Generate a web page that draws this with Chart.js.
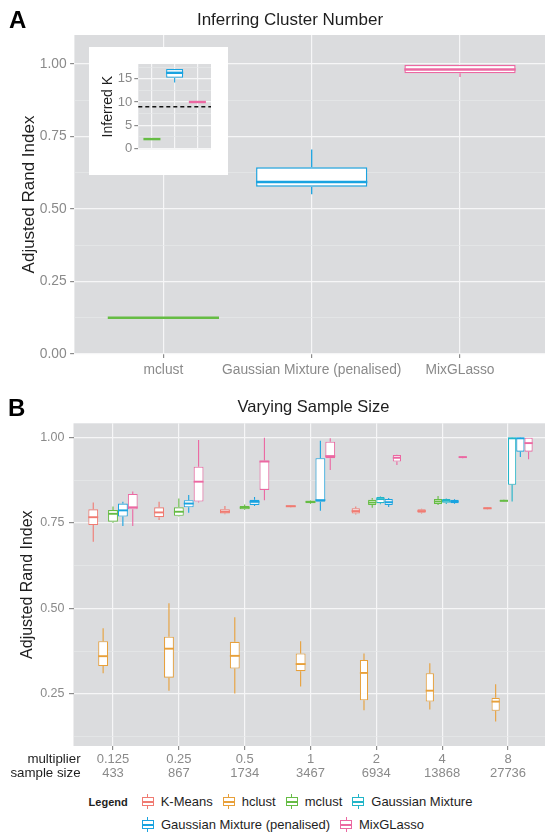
<!DOCTYPE html>
<html>
<head>
<meta charset="utf-8">
<script src="https://cdn.jsdelivr.net/npm/chart.js@4.4.0/dist/chart.umd.min.js"></script>
<style>
  html, body { margin: 0; padding: 0; background: #fff; }
  #page { position: relative; width: 545px; height: 832px; overflow: hidden; font-family: "Liberation Sans", Arial, Helvetica, sans-serif; }
  canvas { position: absolute; display: block; }
  #chartA { left: 0; top: 0; }
  #inset { left: 89px; top: 47px; background: #fff; }
  #chartB { left: 0; top: 388px; }
  #legend { position: absolute; left: 0; top: 790px; width: 545px; box-sizing: border-box; padding-left: 21px; font-size: 13px; color: #1e1e1e; }
  .row { display: flex; justify-content: center; align-items: center; height: 23px; }
  .lg-title { font-weight: bold; font-size: 11px; margin-right: 9px; }
  .item { display: flex; align-items: center; margin: 0 5px; white-space: nowrap; }
  .ico { position: relative; width: 12px; height: 15px; margin-right: 7px; }
  .ico .wh { position: absolute; left: 5.5px; top: 0; width: 1px; height: 15px; }
  .ico .bx { position: absolute; left: 0; top: 3px; width: 12px; height: 9px; box-sizing: border-box; border: 1px solid; background: #fff; }
  .ico .md { position: absolute; left: 0; top: 7px; width: 12px; height: 1.5px; }
</style>
</head>
<body>
<div id="page">
  <canvas id="chartA" width="545" height="388"></canvas>
  <canvas id="inset" width="139" height="128"></canvas>
  <canvas id="chartB" width="545" height="400"></canvas>
  <div id="legend"></div>
</div>
<script>
// series shared by both panels
const seriesNames = ['K-Means', 'hclust', 'mclust', 'Gaussian Mixture', 'Gaussian Mixture (penalised)', 'MixGLasso'];
const seriesColors = ['#F07B72', '#E8A03A', '#66BC44', '#22B5C8', '#1AA3E0', '#EC68A2'];

// Panel A -- every box is [lower whisker, Q1, median, Q3, upper whisker]
const methodsA = ['mclust', 'Gaussian Mixture (penalised)', 'MixGLasso'];
const colorsA = [seriesColors[2], seriesColors[4], seriesColors[5]];
const ariA = [
  [0.125, 0.125, 0.125, 0.125, 0.125],
  [0.551, 0.577, 0.593, 0.644, 0.705],
  [0.955, 0.968, 0.981, 0.997, 0.997]
];
const inferredK = [
  [2, 2, 2, 2, 2],
  [14.2, 15.25, 16.3, 17.1, 17.1],
  [10, 10, 10, 10, 10]
];
const trueK = 9;
const ticksA = [0, 0.25, 0.5, 0.75, 1];
const ticksInset = [0, 5, 10, 15];

// Panel B
const multipliers = ['0.125', '0.25', '0.5', '1', '2', '4', '8'];
const sampleSizes = ['433', '867', '1734', '3467', '6934', '13868', '27736'];
const rowLabels = ['multiplier', 'sample size'];
const kmeans = [
  [0.695, 0.744, 0.767, 0.790, 0.810],
  [0.759, 0.767, 0.781, 0.796, 0.812],
  [0.776, 0.778, 0.783, 0.790, 0.800],
  [0.796, 0.797, 0.799, 0.802, 0.803],
  [0.775, 0.778, 0.785, 0.793, 0.798],
  [0.778, 0.780, 0.785, 0.790, 0.792],
  [0.790, 0.791, 0.793, 0.796, 0.797]
];
const hclust = [
  [0.310, 0.331, 0.360, 0.404, 0.442],
  [0.259, 0.297, 0.382, 0.417, 0.515],
  [0.251, 0.324, 0.361, 0.402, 0.474],
  [0.271, 0.316, 0.337, 0.368, 0.404],
  [0.202, 0.231, 0.311, 0.349, 0.368],
  [0.204, 0.227, 0.259, 0.310, 0.339],
  [0.169, 0.200, 0.227, 0.238, 0.278]
];
const mclust = [
  [0.751, 0.754, 0.777, 0.788, 0.798],
  [0.769, 0.771, 0.783, 0.796, 0.822],
  [0.788, 0.790, 0.795, 0.800, 0.804],
  [0.806, 0.808, 0.812, 0.815, 0.817],
  [0.795, 0.803, 0.810, 0.818, 0.823],
  [0.803, 0.806, 0.813, 0.820, 0.829],
  [0.812, 0.813, 0.815, 0.818, 0.819]
];
const gaussMix = [
  null, null, null, null,
  [0.805, 0.808, 0.820, 0.826, 0.828],
  [0.806, 0.809, 0.815, 0.820, 0.822],
  [0.813, 0.862, 0.998, 0.999, 1.000]
];
const gaussMixPen = [
  [0.741, 0.769, 0.787, 0.807, 0.812],
  [0.780, 0.796, 0.807, 0.817, 0.832],
  [0.800, 0.803, 0.812, 0.818, 0.826],
  [0.786, 0.812, 0.817, 0.940, 0.991],
  [0.797, 0.803, 0.811, 0.820, 0.823],
  [0.806, 0.808, 0.813, 0.818, 0.820],
  [0.943, 0.959, 0.998, 0.999, 1.000]
];
const mixGLasso = [
  [0.741, 0.790, 0.796, 0.835, 0.842],
  [0.810, 0.813, 0.871, 0.915, 0.993],
  [0.817, 0.847, 0.930, 0.933, 1.000],
  [0.905, 0.940, 0.946, 0.988, 0.998],
  [0.920, 0.930, 0.941, 0.949, 0.950],
  [0.940, 0.941, 0.943, 0.945, 0.946],
  [0.937, 0.959, 0.984, 1.000, 1.000]
];
const ticksB = [0.25, 0.5, 0.75, 1];
const seriesB = [kmeans, hclust, mclust, gaussMix, gaussMixPen, mixGLasso];

// look
Chart.defaults.font.family = '"Liberation Sans", Arial, Helvetica, sans-serif';
const PANEL_BG = '#DBDCDE';
const GRID_MAJOR = '#F6F6F7';
const GRID_MINOR = '#E7E8E9';
const TICK_COL = '#8C8C8C';
const LABEL_COL = '#8A8A8A';
const INK = '#1E1E1E';

// ggplot style grey panel
const panelBackground = {
  id: 'panelBackground',
  beforeDraw(chart) {
    const a = chart.chartArea;
    chart.ctx.save();
    chart.ctx.fillStyle = PANEL_BG;
    chart.ctx.fillRect(a.left, a.top, a.right - a.left, a.bottom - a.top);
    chart.ctx.restore();
  }
};

// whiskers + median on top of the floating bars (the boxes)
const boxWhiskers = {
  id: 'boxWhiskers',
  afterDatasetsDraw(chart, args, opts) {
    const ctx = chart.ctx;
    const ys = chart.scales.y;
    const py = v => ys.getPixelForValue(v);
    chart.data.datasets.forEach((ds, di) => {
      if (!ds.boxes) return;
      chart.getDatasetMeta(di).data.forEach((bar, i) => {
        const b = ds.boxes[i];
        if (!b) return;
        const color = Array.isArray(ds.borderColor) ? ds.borderColor[i] : ds.borderColor;
        const half = bar.width / 2;
        ctx.save();
        ctx.strokeStyle = color;
        ctx.lineWidth = opts.whisker;
        ctx.beginPath();
        ctx.moveTo(bar.x, py(b[4])); ctx.lineTo(bar.x, py(b[3]));
        ctx.moveTo(bar.x, py(b[1])); ctx.lineTo(bar.x, py(b[0]));
        ctx.stroke();
        ctx.lineWidth = opts.median;
        ctx.beginPath();
        ctx.moveTo(bar.x - half, py(b[2])); ctx.lineTo(bar.x + half, py(b[2]));
        ctx.stroke();
        ctx.restore();
      });
    });
  }
};

// dashed reference line (true number of clusters) in the inset
const refLine = {
  id: 'refLine',
  afterDatasetsDraw(chart, args, opts) {
    if (opts.value === undefined) return;
    const a = chart.chartArea;
    const y = chart.scales.y.getPixelForValue(opts.value);
    const ctx = chart.ctx;
    ctx.save();
    ctx.strokeStyle = '#111';
    ctx.lineWidth = 1.5;
    ctx.setLineDash([4, 3]);
    ctx.beginPath();
    ctx.moveTo(a.left, y); ctx.lineTo(a.right, y);
    ctx.stroke();
    ctx.restore();
  }
};

// panel letter, panel title, and the row names of the two-line x axis
const panelText = {
  id: 'panelText',
  afterDraw(chart, args, o) {
    const ctx = chart.ctx;
    ctx.save();
    ctx.fillStyle = '#000';
    ctx.textBaseline = 'alphabetic';
    ctx.textAlign = 'left';
    ctx.font = 'bold 24px "Liberation Sans", Arial, sans-serif';
    ctx.fillText(o.letter, o.letterX, o.letterY);
    ctx.fillStyle = INK;
    ctx.textAlign = 'center';
    ctx.font = o.titleSize + 'px "Liberation Sans", Arial, sans-serif';
    ctx.fillText(o.title, o.titleX, o.titleY);
    if (o.rows) {
      const xs = chart.scales.x;
      const lh = 13 * 1.05;
      const y0 = xs.top + 4 + 3 + lh / 2;
      ctx.textAlign = 'right';
      ctx.textBaseline = 'middle';
      ctx.font = '13.3px "Liberation Sans", Arial, sans-serif';
      o.rows.forEach((t, k) => ctx.fillText(t, o.rowsX, y0 + k * lh));
    }
    ctx.restore();
  }
};

function minorBetween(major, min, max) {
  const step = major[1] - major[0];
  const out = [];
  for (let v = major[0] - step / 2; v <= major[major.length - 1] + step / 2 + 1e-9; v += step) {
    if (v >= min && v <= max) out.push(+v.toFixed(6));
  }
  return out;
}

function yAxis(major, min, max, cfg) {
  const all = major.concat(minorBetween(major, min, max)).sort((a, b) => a - b);
  const isMajor = v => major.includes(v);
  return {
    type: 'linear', min: min, max: max,
    afterBuildTicks: s => { s.ticks = all.map(v => ({ value: v })); },
    afterFit: s => { s.width = cfg.width; },
    border: { display: false },
    grid: {
      color: c => isMajor(c.tick.value) ? GRID_MAJOR : GRID_MINOR,
      lineWidth: c => isMajor(c.tick.value) ? 1.2 : 0.7,
      tickColor: c => isMajor(c.tick.value) ? TICK_COL : 'rgba(0,0,0,0)',
      tickLength: cfg.tickLength
    },
    ticks: {
      autoSkip: false,
      padding: cfg.pad,
      color: LABEL_COL,
      font: { size: cfg.size },
      callback: v => isMajor(v) ? cfg.fmt(v) : ''
    },
    title: {
      display: true,
      text: cfg.title,
      color: INK,
      font: { size: cfg.titleSize, lineHeight: 1.2 },
      padding: { top: cfg.titlePad, bottom: 0 }
    }
  };
}

function xAxis(n, max, labelFn, cfg) {
  const idx = Array.from({ length: n }, (_, i) => i);
  return {
    type: 'linear', min: -0.6, max: max, offset: false,
    afterBuildTicks: s => { s.ticks = idx.map(v => ({ value: v })); },
    afterFit: s => { s.height = cfg.height; },
    border: { display: false },
    grid: { offset: false, color: GRID_MAJOR, lineWidth: 1.2, tickColor: TICK_COL, tickLength: 4, drawTicks: cfg.labels },
    ticks: {
      display: cfg.labels,
      autoSkip: false, maxRotation: 0, minRotation: 0,
      padding: cfg.pad,
      color: LABEL_COL,
      font: { size: cfg.size, lineHeight: cfg.lh },
      callback: v => labelFn(v)
    }
  };
}

function boxDataset(label, color, boxes, lw) {
  return {
    label: label,
    data: boxes.map((b, i) => ({ x: i, y: b ? [b[1], b[3]] : null })),
    boxes: boxes,
    backgroundColor: '#ffffff',
    borderColor: color,
    borderWidth: lw,
    borderSkipped: false,
    skipNull: true,
    categoryPercentage: 0.75,
    barPercentage: 1
  };
}

const common = {
  responsive: false,
  animation: false,
  devicePixelRatio: 1,
  events: []
};

// Panel A
new Chart(document.getElementById('chartA'), {
  type: 'bar',
  data: { datasets: [boxDataset('A', colorsA, ariA, 1.4)] },
  options: Object.assign({}, common, {
    layout: { padding: { top: 35, right: 0, bottom: 0, left: 0 } },
    plugins: {
      legend: { display: false }, tooltip: { enabled: false },
      boxWhiskers: { whisker: 1.3, median: 2.6 },
      panelText: { letter: 'A', letterX: 9, letterY: 28, title: 'Inferring Cluster Number', titleX: 290, titleY: 24.5, titleSize: 17 }
    },
    scales: {
      x: xAxis(methodsA.length, 2.573, v => methodsA[v], { height: 34, pad: 4, size: 13.8, lh: 1.2, labels: true }),
      y: yAxis(ticksA, 0, 1.1, { width: 74.4, tickLength: 4.3, pad: 3.5, size: 13.8, fmt: v => v.toFixed(2),
        title: 'Adjusted Rand Index', titleSize: 17, titlePad: 19.3 })
    }
  }),
  plugins: [panelBackground, boxWhiskers, panelText]
});

// inset of panel A
new Chart(document.getElementById('inset'), {
  type: 'bar',
  data: { datasets: [boxDataset('K', colorsA, inferredK, 1.2)] },
  options: Object.assign({}, common, {
    layout: { padding: { top: 17, right: 17, bottom: 0, left: 0 } },
    plugins: {
      legend: { display: false }, tooltip: { enabled: false },
      boxWhiskers: { whisker: 1.1, median: 2.4 },
      refLine: { value: trueK }
    },
    scales: {
      x: xAxis(methodsA.length, 2.6, v => methodsA[v], { height: 25.7, pad: 0, size: 10, lh: 1.2, labels: false }),
      y: yAxis(ticksInset, -0.2, 18.2, { width: 49.3, tickLength: 4, pad: 2, size: 13, fmt: v => String(v),
        title: 'Inferred K', titleSize: 14, titlePad: 10.4 })
    }
  }),
  plugins: [panelBackground, boxWhiskers, refLine]
});

// Panel B
new Chart(document.getElementById('chartB'), {
  type: 'bar',
  data: { datasets: seriesB.map((s, k) => boxDataset(seriesNames[k], seriesColors[k], s, 1.1)) },
  options: Object.assign({}, common, {
    layout: { padding: { top: 35.3, right: 0, bottom: 0, left: 0 } },
    datasets: { bar: { skipNull: true } },
    plugins: {
      legend: { display: false }, tooltip: { enabled: false },
      boxWhiskers: { whisker: 1.1, median: 1.9 },
      panelText: { letter: 'B', letterX: 8, letterY: 28, title: 'Varying Sample Size', titleX: 313.5, titleY: 24, titleSize: 16.5,
        rows: rowLabels, rowsX: 80.6 }
    },
    scales: {
      x: xAxis(multipliers.length, 6.562, v => [multipliers[v], sampleSizes[v]], { height: 42, pad: 3, size: 13, lh: 1.05, labels: true }),
      y: yAxis(ticksB, 0.097, 1.042, { width: 73.5, tickLength: 4.5, pad: 4.5, size: 12.5, fmt: v => v.toFixed(2),
        title: 'Adjusted Rand Index', titleSize: 16, titlePad: 18 })
    }
  }),
  plugins: [panelBackground, boxWhiskers, panelText]
});

// legend (two rows, glyph = small box with whisker and median)
const legendRows = [[0, 1, 2, 3], [4, 5]];
const legendEl = document.getElementById('legend');
legendRows.forEach((row, r) => {
  const rowEl = document.createElement('div');
  rowEl.className = 'row';
  if (r === 0) {
    const t = document.createElement('span');
    t.className = 'lg-title';
    t.textContent = 'Legend';
    rowEl.appendChild(t);
  }
  row.forEach(k => {
    const c = seriesColors[k];
    const item = document.createElement('span');
    item.className = 'item';
    item.innerHTML = '<span class="ico"><span class="wh" style="background:' + c + '"></span>' +
      '<span class="bx" style="border-color:' + c + '"></span>' +
      '<span class="md" style="background:' + c + '"></span></span>';
    const txt = document.createElement('span');
    txt.textContent = seriesNames[k];
    item.appendChild(txt);
    rowEl.appendChild(item);
  });
  legendEl.appendChild(rowEl);
});
</script>
</body>
</html>
